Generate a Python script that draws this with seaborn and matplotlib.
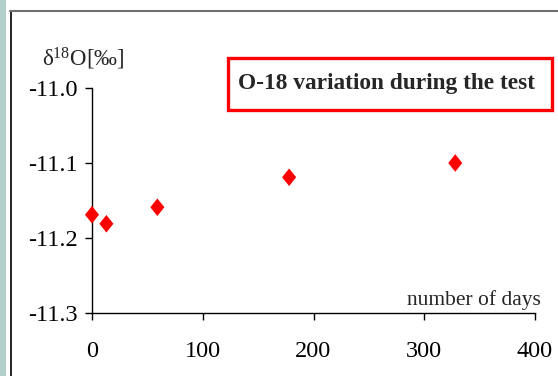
import matplotlib
matplotlib.use("Agg")
import matplotlib.pyplot as plt
import seaborn as sns
import pandas as pd
from matplotlib.patches import Rectangle
from matplotlib.lines import Line2D

# values
days = [0, 13, 59, 178, 328]
d18o = [-11.169, -11.181, -11.159, -11.119, -11.100]
x_ticks = [0, 100, 200, 300, 400]
y_ticks = [-11.3, -11.2, -11.1, -11.0]

df = pd.DataFrame({"days": days, "d18O": d18o})

sns.set_theme(style="ticks")
plt.rcParams["font.family"] = ["Liberation Serif", "DejaVu Serif"]
plt.rcParams["mathtext.fontset"] = "custom"
plt.rcParams["mathtext.rm"] = "Liberation Serif"
plt.rcParams["mathtext.it"] = "Liberation Serif:italic"

fig = plt.figure(figsize=(5.58, 3.76), dpi=100)
W, H = 558, 376
ax = fig.add_axes([92 / W, 1 - 313 / H, (535 - 92) / W, (313 - 88) / H])

diamond = [(0, 1), (0.8, 0), (0, -1), (-0.8, 0), (0, 1)]
sns.scatterplot(data=df, x="days", y="d18O", marker=diamond, s=160,
                color="red", edgecolor="none", ax=ax, zorder=3, clip_on=False)

ax.set_xlim(0, 400)
ax.set_ylim(-11.3, -11.0)
ax.set_xticks(x_ticks)
ax.set_yticks(y_ticks)
ax.set_yticklabels([f"{v:.1f}" for v in y_ticks])
ax.set_xlabel("")
ax.set_ylabel("")
sns.despine(ax=ax)
for s in ["left", "bottom"]:
    ax.spines[s].set_linewidth(1.0)
    ax.spines[s].set_color("black")
ax.tick_params(axis="both", direction="out", length=5, width=1.0,
               color="black", labelsize=17.5, labelcolor="black")
ax.tick_params(axis="x", pad=15)
ax.tick_params(axis="y", pad=5)
ax.set_facecolor("white")

# axis titles placed like the original
fig.text(42 / W, 1 - 66 / H, "δ$^{18}$O[‰]", fontsize=16.5, ha="left",
         va="baseline")
fig.text(541 / W, 1 - 305 / H, "number of days", fontsize=15.5, ha="right",
         va="baseline")

# title in a red box
fig.patches.append(Rectangle((228 / W, 1 - 110 / H), (552 - 228) / W, 52 / H,
                             transform=fig.transFigure, fill=False,
                             edgecolor="red", linewidth=2.4))
fig.text(387 / W, 1 - 84 / H, "O-18 variation during the test", fontsize=16.8,
         fontweight="bold", ha="center", va="center")

# outer frame bits
fig.patches.append(Rectangle((0, 0), 6 / W, 1, transform=fig.transFigure,
                             facecolor="#b3cfc9", edgecolor="none"))
fig.lines.append(Line2D([10.5 / W, 10.5 / W], [0, 1 - 11 / H],
                        transform=fig.transFigure, color="black", lw=1.2))
fig.lines.append(Line2D([10 / W, 1], [1 - 11 / H, 1 - 11 / H],
                        transform=fig.transFigure, color="#707070", lw=1.5))

fig.savefig("out.png", dpi=100, facecolor="white")
